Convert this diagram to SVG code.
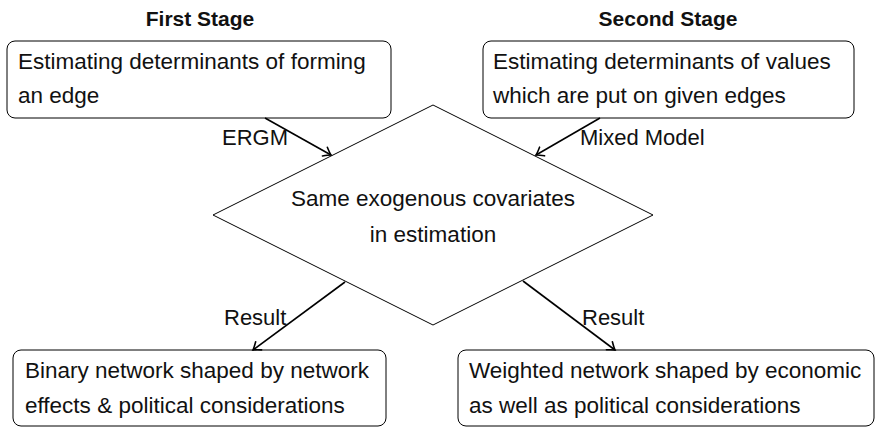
<svg xmlns="http://www.w3.org/2000/svg" width="875" height="427" viewBox="0 0 875 427">
  <style>
    .box { fill: #ffffff; stroke: #000000; stroke-width: 1; }
    .dia { fill: #ffffff; stroke: #000000; stroke-width: 1; }
    .t { font-family: "Liberation Sans", Arial, sans-serif; font-size: 22.5px; fill: #111111; }
    .lbl { font-family: "Liberation Sans", Arial, sans-serif; font-size: 22px; fill: #111111; }
    .title { font-family: "Liberation Sans", Arial, sans-serif; font-size: 21px; font-weight: bold; fill: #111111; text-anchor: middle; }
    .mid { text-anchor: middle; }
    .edge { stroke: #000000; stroke-width: 1.6; fill: none; }
  </style>
  <defs>
    <marker id="arr" markerUnits="userSpaceOnUse" markerWidth="14" markerHeight="14" viewBox="-10 -7 14 14" refX="0" refY="0" orient="auto">
      <path d="M-7,-5 Q-2,-1 0,0 Q-2,1 -7,5" fill="none" stroke="#000000" stroke-width="1.6" stroke-linecap="round"/>
    </marker>
  </defs>
  <rect width="875" height="427" fill="#ffffff"/>

  <text class="title" x="200" y="26">First Stage</text>
  <text class="title" x="668" y="26">Second Stage</text>

  <g id="node-first">
    <rect class="box" x="7" y="41" width="384" height="77" rx="8"/>
    <text class="t" x="18" y="69">Estimating determinants of forming</text>
    <text class="t" x="18" y="103">an edge</text>
  </g>

  <g id="node-second">
    <rect class="box" x="483" y="41" width="371" height="77" rx="8"/>
    <text class="t" x="493" y="69">Estimating determinants of values</text>
    <text class="t" x="493" y="103">which are put on given edges</text>
  </g>

  <g id="node-decision">
    <polygon class="dia" points="433,105 653,215 433,325 213,215"/>
    <text class="t mid" x="433" y="206">Same exogenous covariates</text>
    <text class="t mid" x="433" y="242">in estimation</text>
  </g>

  <g id="node-binary">
    <rect class="box" x="13" y="350" width="373" height="76" rx="8"/>
    <text class="t" x="25" y="378">Binary network shaped by network</text>
    <text class="t" x="25" y="413">effects &amp; political considerations</text>
  </g>

  <g id="node-weighted">
    <rect class="box" x="458" y="350" width="416" height="76" rx="8"/>
    <text class="t" x="469" y="378">Weighted network shaped by economic</text>
    <text class="t" x="469" y="413">as well as political considerations</text>
  </g>

  <g id="connectors">
    <line class="edge" x1="265" y1="118" x2="331" y2="155" marker-end="url(#arr)"/>
    <line class="edge" x1="600" y1="118" x2="536" y2="155" marker-end="url(#arr)"/>
    <line class="edge" x1="345" y1="282" x2="253" y2="350" marker-end="url(#arr)"/>
    <line class="edge" x1="523" y1="281" x2="615" y2="350" marker-end="url(#arr)"/>
    <text class="lbl" x="222" y="145">ERGM</text>
    <text class="lbl" x="580" y="145">Mixed Model</text>
    <text class="lbl" x="224" y="325">Result</text>
    <text class="lbl" x="582" y="325">Result</text>
  </g>
</svg>
